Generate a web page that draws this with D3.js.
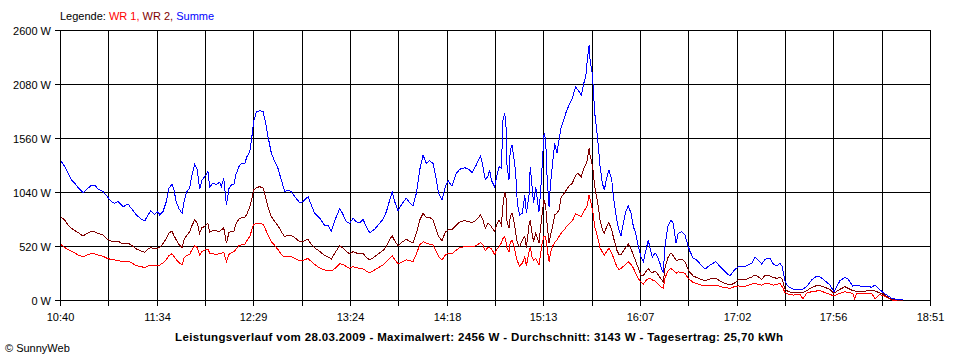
<!DOCTYPE html>
<html>
<head>
<meta charset="utf-8">
<script src="https://cdn.jsdelivr.net/npm/d3@7"></script>
<style>
  html, body { margin: 0; padding: 0; background: #ffffff; }
  svg { display: block; }
  text { font-family: "Liberation Sans", Arial, sans-serif; }
</style>
</head>
<body>
<svg id="chart" width="960" height="360"></svg>
<script>
// ---- data ----
const totalMinutes = 491; // 10:40 .. 18:51
const timeLabels = ["10:40","11:34","12:29","13:24","14:18","15:13","16:07","17:02","17:56","18:51"];
const yTicks = [0, 520, 1040, 1560, 2080, 2600];
const yTickLabels = ["0 W", "520 W", "1040 W", "1560 W", "2080 W", "2600 W"];
const seriesNames = ["WR 1", "WR 2", "Summe"];
const titleText = "Leistungsverlauf vom 28.03.2009 - Maximalwert: 2456 W - Durchschnitt: 3143 W - Tagesertrag: 25,70 kWh";
const copyrightText = "\u00A9 SunnyWeb";

// minutes after 10:40
const minutes = [
0.4,2.7,4.5,6.4,8.3,10.2,13.0,14.8,17.7,19.6,
21.4,24.3,26.7,29.0,30.9,32.7,35.6,38.4,40.2,43.1,
45.9,47.8,49.7,51.2,53.4,55.3,56.3,58.1,60.0,61.5,
63.2,64.3,65.6,67.0,68.9,70.0,71.3,73.2,74.1,76.0,
77.5,78.8,80.1,81.7,83.5,84.5,86.3,88.2,90.1,91.0,
92.4,93.9,95.4,96.7,98.2,99.2,101.0,102.3,104.2,105.5,
107.1,108.4,109.3,110.8,112.7,114.6,115.9,117.4,119.3,121.2,
123.0,124.9,126.8,128.7,130.5,132.5,135.3,137.1,140.0,141.8,
143.7,146.6,149.4,151.3,153.1,155.6,157.9,159.7,161.6,163.5,
165.4,167.2,169.1,171.0,172.9,174.8,177.6,180.4,182.3,184.2,
186.1,187.5,188.9,190.8,192.6,195.4,197.4,199.2,201.1,203.0,
204.9,206.7,208.6,210.5,212.4,213.7,215.6,217.5,219.0,221.2,
223.7,225.6,228.4,230.7,232.5,234.9,237.4,238.7,240.0,241.5,
242.5,243.4,245.3,246.6,247.8,249.1,250.0,251.0,251.9,252.3,
253.4,254.1,255.1,256.1,257.2,258.1,259.4,260.9,262.3,263.2,
264.7,265.4,266.4,267.3,268.5,269.4,270.3,271.3,272.2,273.2,
274.1,274.8,276.0,276.7,277.8,279.2,280.5,281.6,282.9,284.3,
285.7,287.3,289.1,291.0,292.3,294.2,295.6,296.7,297.6,298.6,
299.3,300.1,300.8,301.8,303.5,304.8,306.1,307.2,308.5,309.8,
311.4,312.3,314.2,315.5,316.6,317.9,319.3,320.7,322.3,323.6,
324.9,326.4,327.9,329.2,330.5,332.0,333.0,334.3,335.8,337.3,
338.6,339.6,340.5,341.4,343.0,344.8,346.1,347.7,348.9,350.9,
352.7,354.3,355.6,357.4,359.3,361.8,364.0,366.8,370.1,372.5,
375.3,378.1,380.6,382.8,386.2,390.4,392.2,394.1,396.0,397.9,
400.7,402.6,404.5,406.3,407.6,409.2,411.0,413.9,417.6,419.3,
421.4,424.2,427.1,428.9,431.7,434.6,436.8,438.3,440.2,443.0,
444.9,447.4,448.4,449.6,452.5,455.3,458.1,460.0,462.4,464.7,
466.6,469.4,472.2,475.9
];

const wr1 = [
536,506,486,472,453,433,417,429,450,443,
433,421,400,390,385,380,369,376,361,330,
321,311,327,337,332,327,337,356,390,429,
446,419,390,363,337,404,424,440,472,523,
504,433,465,481,491,450,445,440,445,450,
462,369,440,453,469,486,525,530,536,573,
610,684,729,737,739,729,684,626,561,525,
486,438,414,424,419,402,376,382,400,371,
342,308,289,287,279,308,351,342,323,305,
321,313,305,299,279,263,289,318,337,369,
402,424,390,347,361,387,380,369,443,530,
561,549,536,530,465,419,385,433,448,445,
481,506,513,513,510,525,554,530,475,507,
503,496,438,491,513,549,592,607,546,501,
465,559,573,530,433,376,327,353,414,327,
462,513,417,385,404,366,337,450,559,616,
607,513,369,443,513,554,578,610,645,669,
703,732,761,828,819,802,857,881,915,1011,
958,905,838,706,597,501,462,433,465,498,
450,409,323,294,303,323,342,369,342,308,
257,207,173,154,183,207,209,193,183,159,
135,120,113,212,274,305,284,257,270,267,
255,217,193,167,159,144,135,144,144,130,
120,113,128,135,130,154,161,149,144,159,
154,144,149,161,128,70,58,48,53,10,
67,80,87,89,72,53,39,53,65,79,
72,65,10,61,58,60,63,10,51,43,
26,0,0,0
];

const wr2 = [
802,770,722,690,669,650,616,636,664,655,
642,626,587,568,561,568,539,546,530,491,
472,459,491,504,491,501,504,544,592,645,
664,621,578,536,504,578,616,658,703,770,
741,642,696,708,739,652,669,666,660,674,
696,546,652,660,664,727,780,790,792,828,
896,982,1059,1083,1091,1079,1002,896,802,756,
717,658,610,626,621,600,561,565,585,534,
503,467,429,414,395,465,523,501,467,443,
465,453,443,450,411,385,417,453,477,513,
585,616,571,520,552,585,563,549,642,770,
835,796,796,770,674,611,571,655,674,679,
722,751,764,756,744,770,819,770,690,739,
727,706,658,732,770,722,915,1040,963,751,
693,802,835,770,645,546,513,578,616,501,
722,770,642,561,642,597,546,706,847,963,
905,751,546,610,693,819,838,867,995,1021,
1059,1098,1124,1199,1220,1187,1268,1300,1348,1461,
1377,1329,1252,1091,931,770,674,642,706,744,
674,607,481,438,433,472,506,539,491,433,
376,305,241,236,270,305,279,260,279,250,
217,193,176,308,404,455,424,385,385,392,
371,299,265,231,217,197,186,202,209,183,
159,144,161,193,193,221,241,224,199,236,
231,217,209,219,199,103,82,70,72,74,
90,120,140,140,122,101,65,82,103,128,
111,91,87,80,80,87,93,87,70,58,
32,7,0,0
];

const summe = [
1341,1284,1220,1156,1124,1081,1033,1059,1107,1107,
1069,1043,995,947,931,947,898,924,883,819,
780,761,819,860,825,850,819,850,947,1076,
1114,1059,947,883,835,947,1037,1076,1172,1307,
1252,1066,1156,1187,1235,1091,1124,1114,1133,1091,
1172,915,1076,1107,1114,1204,1284,1316,1310,1380,
1428,1589,1717,1813,1823,1813,1717,1573,1413,1332,
1268,1156,1043,1059,1043,995,937,947,995,915,
835,787,716,722,664,787,883,825,754,739,
787,754,744,777,706,648,681,739,777,850,
963,1043,947,860,915,979,937,905,1027,1252,
1396,1316,1341,1316,1156,1027,963,1091,1149,1098,
1220,1259,1274,1259,1226,1300,1387,1284,1162,1187,
1252,1156,1091,1204,1284,1268,1733,1798,1637,1284,
1156,1444,1493,1380,1220,931,819,835,1011,835,
1011,1284,1091,931,1091,963,850,1059,1316,1605,
1541,1220,898,1091,1284,1509,1413,1541,1669,1733,
1813,1878,1942,2054,2022,1974,2087,2150,2311,2456,
2279,2231,2087,1798,1541,1284,1124,1059,1172,1252,
1156,995,770,674,616,739,850,905,835,706,
642,513,417,369,465,578,498,411,455,417,
353,289,273,513,706,770,739,546,642,658,
626,530,465,402,385,337,296,337,369,321,
273,231,289,321,321,353,411,385,347,392,
402,347,327,353,321,176,128,103,103,106,
128,193,231,224,186,144,80,128,186,219,
199,135,140,144,128,135,122,144,103,70,
48,16,5,0
];

// ---- drawing ----
(function draw() {
  const svg = d3.select("#chart");
  svg.append("rect").attr("width", 960).attr("height", 360).attr("fill", "#fff");

  const plotLeft = 60, plotRight = 930, plotTop = 30, plotBottom = 300;
  const x = d3.scaleLinear().domain([0, totalMinutes]).range([plotLeft, plotRight]);
  const y = d3.scaleLinear().domain([0, 2600]).range([plotBottom, plotTop]);
  const px = v => Math.round(v) + 0.5;

  // grid: vertical lines (18 intervals, label every second)
  const vGrid = d3.range(19).map(i => i * totalMinutes / 18);
  const grid = svg.append("g").attr("shape-rendering", "crispEdges");
  grid.selectAll("line.v").data(vGrid).join("line").attr("class", "v")
    .attr("x1", d => px(x(d))).attr("x2", d => px(x(d)))
    .attr("y1", px(y(2600))).attr("y2", px(y(0)) + 5)
    .attr("stroke", "#000").attr("stroke-width", 1);
  grid.selectAll("line.h").data(yTicks).join("line").attr("class", "h")
    .attr("x1", plotLeft - 5).attr("x2", px(plotRight) + 0.5)
    .attr("y1", d => px(y(d))).attr("y2", d => px(y(d)))
    .attr("stroke", "#000").attr("stroke-width", 1);

  // y labels
  svg.append("g").selectAll("text").data(yTicks).join("text")
    .attr("x", 51).attr("y", d => px(y(d)) + 4)
    .attr("text-anchor", "end").attr("font-size", "11px").attr("fill", "#000")
    .text((d, i) => yTickLabels[i]);

  // x labels
  svg.append("g").selectAll("text").data(timeLabels).join("text")
    .attr("x", (d, i) => px(x(vGrid[i * 2])))
    .attr("y", 321)
    .attr("text-anchor", "middle").attr("font-size", "11px").attr("fill", "#000")
    .text(d => d);

  // series lines
  const colors = { "WR 1": "#ff0000", "WR 2": "#800000", "Summe": "#0000ff" };
  const seriesData = { "WR 1": wr1, "WR 2": wr2, "Summe": summe };
  const line = d3.line().x((d, i) => x(minutes[i])).y(d => y(d));
  const linesG = svg.append("g").attr("shape-rendering", "crispEdges");
  seriesNames.forEach(name => {
    linesG.append("path")
      .datum(seriesData[name])
      .attr("d", line)
      .attr("fill", "none")
      .attr("stroke", colors[name])
      .attr("stroke-width", 1);
  });

  // legend
  const leg = svg.append("text").attr("x", 60).attr("y", 20).attr("font-size", "11px");
  leg.append("tspan").attr("fill", "#000").text("Legende: ");
  seriesNames.forEach((name, i) => {
    leg.append("tspan").attr("fill", colors[name])
      .text(name + (i < seriesNames.length - 1 ? ", " : ""));
  });

  // title
  svg.append("text").attr("x", 175).attr("y", 341)
    .attr("font-size", "11.5px").attr("font-weight", "bold")
    .attr("textLength", 608).attr("lengthAdjust", "spacing")
    .attr("fill", "#000").text(titleText);

  // copyright
  svg.append("text").attr("x", 5).attr("y", 352)
    .attr("font-size", "11px").attr("fill", "#000").text(copyrightText);
})();
</script>
</body>
</html>
